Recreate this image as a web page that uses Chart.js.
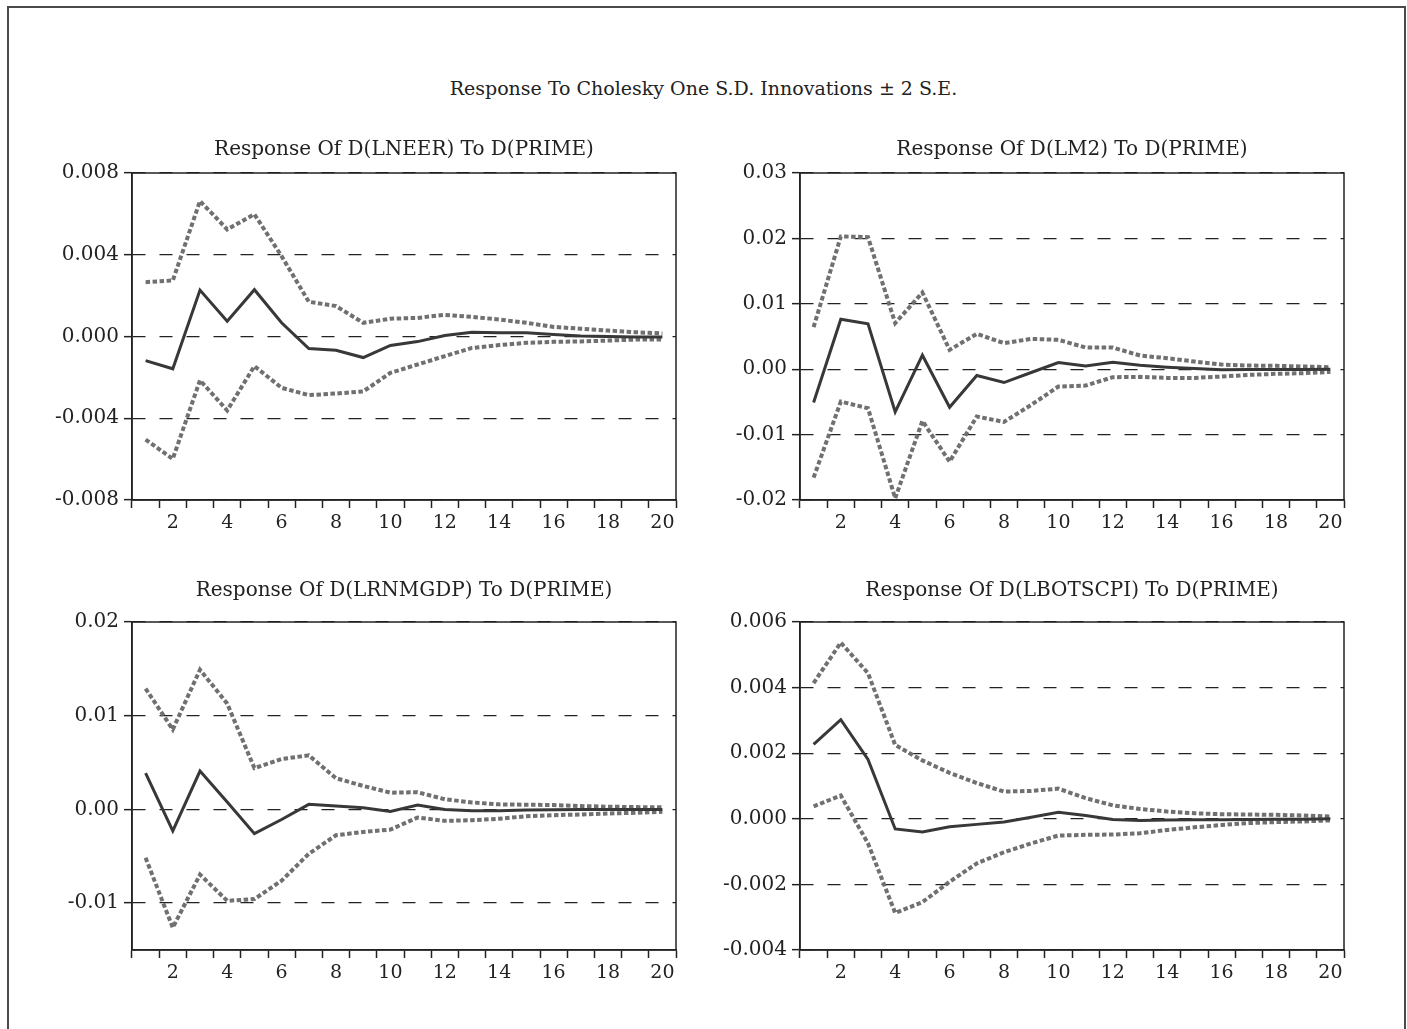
<!DOCTYPE html>
<html lang="pt-BR">
<head>
<meta charset="utf-8">
<title>Resposta a impulso</title>
<script src="https://cdn.jsdelivr.net/npm/chart.js@4.4.0/dist/chart.umd.min.js"></script>
<style>
  html, body { margin: 0; padding: 0; background: #fff; overflow: hidden; }
  body { width: 1407px; height: 1029px; position: relative; font-family: 'DejaVu Serif', serif; }
  #moldura { position: absolute; left: 7px; top: 6px; width: 1395px; height: 1040px; border: 2px solid #4a4a4a; }
  #titulo { position: absolute; left: 0; top: 76px; width: 1407px; text-align: center; font-size: 19px; line-height: 24px; color: #222; }
  canvas { position: absolute; display: block; }
</style>
</head>
<body>
<div id="moldura"></div>
<div id="titulo">Response To Cholesky One S.D. Innovations ± 2 S.E.</div>
<canvas id="g1" width="680" height="420" style="left:20px; top:120px"></canvas>
<canvas id="g2" width="680" height="420" style="left:688px; top:120px"></canvas>
<canvas id="g3" width="680" height="421" style="left:20px; top:569px"></canvas>
<canvas id="g4" width="680" height="421" style="left:688px; top:569px"></canvas>
<script>
// Períodos (horizonte da resposta)
const periodos = ['1','2','3','4','5','6','7','8','9','10','11','12','13','14','15','16','17','18','19','20'];

// D(LNEER)
const resp1 = [-0.00118, -0.00158, 0.00227, 0.00075, 0.00229, 0.00067, -0.00059, -0.00067, -0.00103, -0.00044, -0.00025, 0.00005, 0.00021, 0.00018, 0.00018, 0.0001, 0.00003, 0.0, -0.00002, -0.00003];
const sup1 = [0.00266, 0.00274, 0.00663, 0.00524, 0.00598, 0.00393, 0.0017, 0.00149, 0.00067, 0.00087, 0.00091, 0.00106, 0.00096, 0.00083, 0.00067, 0.00047, 0.00038, 0.00029, 0.00021, 0.00015];
const inf1 = [-0.00504, -0.00599, -0.00214, -0.00362, -0.00145, -0.00251, -0.00287, -0.00279, -0.00269, -0.00178, -0.00137, -0.00096, -0.00056, -0.00042, -0.00031, -0.00026, -0.00024, -0.0002, -0.00015, -0.00015];
const limites1 = [-0.008, 0.008];
const ticks1 = [-0.008, -0.004, 0, 0.004, 0.008];
const rotulos1 = ['-0.008', '-0.004', '0.000', '0.004', '0.008'];

// D(LM2)
const resp2 = [-0.0051, 0.00765, 0.00694, -0.00653, 0.00214, -0.00582, -0.00097, -0.00204, -0.0005, 0.00102, 0.00051, 0.00107, 0.00061, 0.00031, 0.0001, -0.0001, -0.00005, -0.00005, -0.00005, 0];
const sup2 = [0.00643, 0.0203, 0.0202, 0.00704, 0.01173, 0.00296, 0.0054, 0.00398, 0.00464, 0.00449, 0.00332, 0.00332, 0.00209, 0.00168, 0.00117, 0.00071, 0.00056, 0.00051, 0.00041, 0.00031];
const inf2 = [-0.01658, -0.00495, -0.00597, -0.01974, -0.00791, -0.01413, -0.00724, -0.00806, -0.00546, -0.00265, -0.0025, -0.00122, -0.00117, -0.00133, -0.00133, -0.00112, -0.00087, -0.00071, -0.00061, -0.00041];
const limites2 = [-0.02, 0.03];
const ticks2 = [-0.02, -0.01, 0, 0.01, 0.02, 0.03];
const rotulos2 = ['-0.02', '-0.01', '0.00', '0.01', '0.02', '0.03'];

// D(LRNMGDP)
const resp3 = [0.00387, -0.00229, 0.00409, 0.0008, -0.00258, -0.00108, 0.00054, 0.00036, 0.00018, -0.00022, 0.00047, 0, -0.00014, -0.00014, -0.00007, -0.00004, 0, 0, 0, 0];
const sup3 = [0.0129, 0.00853, 0.01491, 0.01129, 0.00441, 0.00538, 0.00577, 0.00333, 0.00251, 0.00179, 0.00183, 0.00108, 0.00075, 0.00054, 0.0005, 0.00047, 0.00036, 0.00029, 0.00025, 0.00022];
const inf3 = [-0.00516, -0.01262, -0.00695, -0.00975, -0.00957, -0.0076, -0.00473, -0.00276, -0.0024, -0.00215, -0.00086, -0.00122, -0.00115, -0.001, -0.00072, -0.00061, -0.00054, -0.00043, -0.00036, -0.00025];
const limites3 = [-0.015, 0.02];
const ticks3 = [-0.01, 0, 0.01, 0.02];
const rotulos3 = ['-0.01', '0.00', '0.01', '0.02'];

// D(LBOTSCPI)
const resp4 = [0.00227, 0.00302, 0.00181, -0.00031, -0.0004, -0.00024, -0.00017, -0.0001, 0.00005, 0.0002, 0.0001, -0.00002, -0.00005, -0.00004, -0.00003, -0.00003, -0.00002, -0.00001, -0.00001, 0];
const sup4 = [0.00414, 0.00537, 0.00444, 0.00225, 0.00178, 0.0014, 0.00109, 0.00083, 0.00085, 0.00092, 0.00063, 0.00041, 0.0003, 0.00022, 0.00017, 0.00014, 0.00013, 0.00012, 0.0001, 0.00007];
const inf4 = [0.00038, 0.00071, -0.00075, -0.00287, -0.00254, -0.00192, -0.00136, -0.00102, -0.00075, -0.00051, -0.00049, -0.00048, -0.00044, -0.00034, -0.00026, -0.00019, -0.00013, -0.0001, -0.00008, -0.00005];
const limites4 = [-0.004, 0.006];
const ticks4 = [-0.004, -0.002, 0, 0.002, 0.004, 0.006];
const rotulos4 = ['-0.004', '-0.002', '0.000', '0.002', '0.004', '0.006'];

const familia = "'DejaVu Serif', serif";
const corTexto = '#222';

// Moldura da área do gráfico (lados de cima e da direita)
const moldura = {
  id: 'moldura',
  afterDraw(chart) {
    const { ctx, chartArea: a } = chart;
    ctx.save();
    ctx.strokeStyle = '#222';
    ctx.lineWidth = 1.5;
    ctx.strokeRect(a.left, a.top, a.right - a.left, a.bottom - a.top);
    ctx.restore();
  }
};

function criarGrafico(id, titulo, resp, sup, inf, limites, ticksY, rotulosY, padTitulo) {
  const banda = dados => ({
    data: dados,
    borderColor: '#707070',
    borderWidth: 4,
    borderDash: [4.5, 2.5],
    pointRadius: 0,
    tension: 0
  });

  return new Chart(document.getElementById(id), {
    type: 'line',
    data: {
      labels: periodos,
      datasets: [
        { data: resp, borderColor: '#383838', borderWidth: 3, pointRadius: 0, tension: 0 },
        banda(sup),
        banda(inf)
      ]
    },
    options: {
      responsive: false,
      animation: false,
      layout: { padding: { top: 0, right: 24, bottom: 0, left: 0 } },
      scales: {
        x: {
          type: 'category',
          offset: true,
          afterFit: s => { s.height = 40; },
          grid: { offset: true, drawOnChartArea: false, drawTicks: true, tickLength: 8, tickColor: '#222', tickWidth: 1.5 },
          border: { color: '#222', width: 1.5 },
          ticks: {
            autoSkip: false,
            maxRotation: 0,
            padding: 4,
            color: corTexto,
            font: { family: familia, size: 19 },
            callback: (v, i) => (i % 2 === 1 ? periodos[i] : '')
          }
        },
        y: {
          min: limites[0],
          max: limites[1],
          afterFit: s => { s.width = 112; },
          afterBuildTicks: s => { s.ticks = ticksY.map(v => ({ value: v })); },
          grid: { color: '#222', lineWidth: 1.3, tickLength: 8, tickColor: '#222', tickWidth: 1.5 },
          border: { color: '#222', width: 1.5, dash: [13, 14] },
          ticks: {
            padding: 5,
            color: corTexto,
            font: { family: familia, size: 20 },
            callback: (v, i) => rotulosY[i]
          }
        }
      },
      plugins: {
        legend: { display: false },
        tooltip: { enabled: false },
        title: {
          display: true,
          text: titulo,
          fullSize: false,
          color: corTexto,
          font: { family: familia, size: 20, weight: 'normal', lineHeight: 1.2 },
          padding: padTitulo
        }
      }
    },
    plugins: [moldura]
  });
}

criarGrafico('g1', 'Response Of D(LNEER) To D(PRIME)', resp1, sup1, inf1, limites1, ticks1, rotulos1, { top: 18, bottom: 11 });
criarGrafico('g2', 'Response Of D(LM2) To D(PRIME)', resp2, sup2, inf2, limites2, ticks2, rotulos2, { top: 18, bottom: 11 });
criarGrafico('g3', 'Response Of D(LRNMGDP) To D(PRIME)', resp3, sup3, inf3, limites3, ticks3, rotulos3, { top: 10, bottom: 19 });
criarGrafico('g4', 'Response Of D(LBOTSCPI) To D(PRIME)', resp4, sup4, inf4, limites4, ticks4, rotulos4, { top: 10, bottom: 19 });
</script>
</body>
</html>
